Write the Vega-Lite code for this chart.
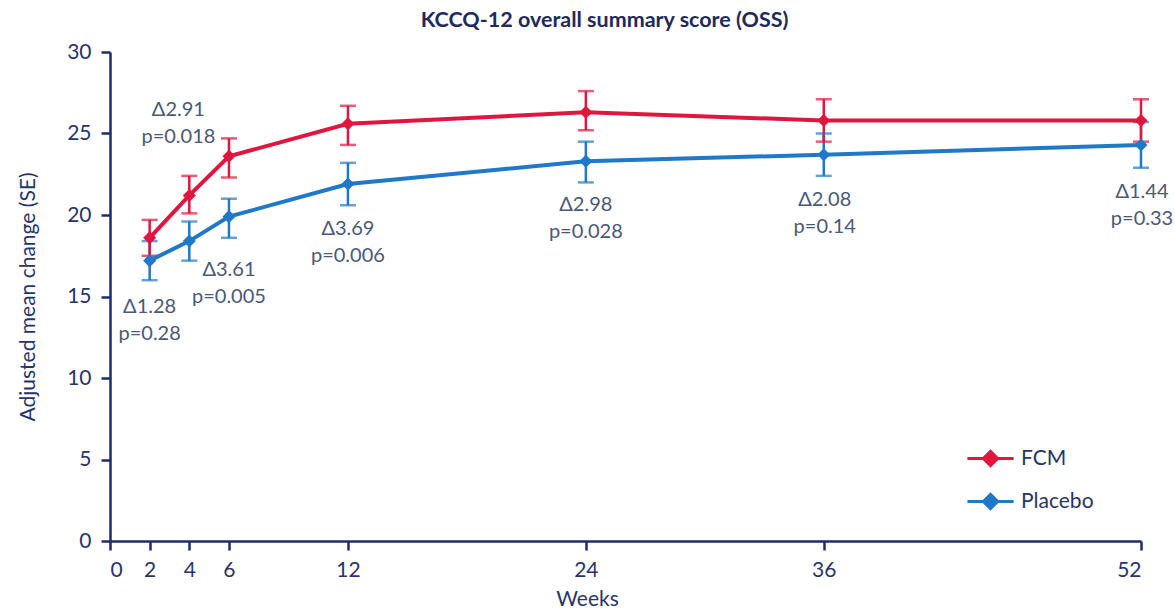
{
  "$schema": "https://vega.github.io/schema/vega-lite/v6.json",
  "width": 1031,
  "height": 489,
  "autosize": {"type": "none"},
  "padding": {"left": 110, "top": 52, "right": 34, "bottom": 70},
  "background": "white",
  "config": {
    "font": "Lato",
    "view": {"stroke": null},
    "axis": {
      "domainColor": "#1d2c6b", "domainWidth": 2.5, "tickColor": "#1d2c6b", "tickWidth": 2.5, "tickSize": 9,
      "labelColor": "#27346b", "labelFontSize": 21, "labelFont": "Lato", "titleColor": "#27346b", "titleFontSize": 21,
      "titleFontWeight": "normal", "titleFont": "Lato", "grid": false
    }
  },
  "title": {"text": "KCCQ-12 overall summary score (OSS)", "fontSize": 21.5, "fontWeight": "bold", "color": "#1f2a5c", "font": "Lato", "offset": 10, "dx": -21},
  "datasets": {
    "pts": [
      {"week": 2, "group": "Placebo", "mean": 17.2, "lo": 16.0, "hi": 18.4},
      {"week": 4, "group": "Placebo", "mean": 18.4, "lo": 17.2, "hi": 19.6},
      {"week": 6, "group": "Placebo", "mean": 19.9, "lo": 18.6, "hi": 21.0},
      {"week": 12, "group": "Placebo", "mean": 21.9, "lo": 20.6, "hi": 23.2},
      {"week": 24, "group": "Placebo", "mean": 23.3, "lo": 22.0, "hi": 24.5},
      {"week": 36, "group": "Placebo", "mean": 23.7, "lo": 22.4, "hi": 25.0},
      {"week": 52, "group": "Placebo", "mean": 24.3, "lo": 22.9, "hi": 25.7},
      {"week": 2, "group": "FCM", "mean": 18.6, "lo": 17.5, "hi": 19.7},
      {"week": 4, "group": "FCM", "mean": 21.2, "lo": 20.1, "hi": 22.4},
      {"week": 6, "group": "FCM", "mean": 23.6, "lo": 22.3, "hi": 24.7},
      {"week": 12, "group": "FCM", "mean": 25.6, "lo": 24.3, "hi": 26.7},
      {"week": 24, "group": "FCM", "mean": 26.3, "lo": 25.2, "hi": 27.6},
      {"week": 36, "group": "FCM", "mean": 25.8, "lo": 24.5, "hi": 27.1},
      {"week": 52, "group": "FCM", "mean": 25.8, "lo": 24.5, "hi": 27.1}
    ],
    "notes": [
      {"week": 2.0, "y": 14.36, "label": "Δ1.28\np=0.28"},
      {"week": 3.45, "y": 26.44, "label": "Δ2.91\np=0.018"},
      {"week": 6.0, "y": 16.63, "label": "Δ3.61\np=0.005"},
      {"week": 12.0, "y": 19.14, "label": "Δ3.69\np=0.006"},
      {"week": 24.0, "y": 20.61, "label": "Δ2.98\np=0.028"},
      {"week": 36.05, "y": 20.92, "label": "Δ2.08\np=0.14"},
      {"week": 52.05, "y": 21.41, "label": "Δ1.44\np=0.33"}
    ]
  },
  "layer": [
    {
      "data": {"name": "pts"},
      "mark": {"type": "rule", "strokeWidth": 2.5},
      "encoding": {
        "x": {"field": "week", "type": "quantitative", "scale": {"domain": [0, 52], "nice": false},
          "axis": {"values": [0, 2, 4, 6, 12, 24, 36, 52], "title": "Weeks", "labelPadding": 9, "titlePadding": 8, "titleX": 477, "titleAnchor": "start", "titleAlign": "center"}},
        "y": {"field": "lo", "type": "quantitative", "scale": {"domain": [0, 30], "nice": false},
          "axis": {"values": [0, 5, 10, 15, 20, 25, 30], "title": "Adjusted mean change (SE)", "labelPadding": 10, "titlePadding": 28}},
        "y2": {"field": "hi"},
        "color": {"field": "group", "type": "nominal", "scale": {"domain": ["FCM", "Placebo"], "range": ["#e0163f", "#1f78c8"]},
          "legend": {"orient": "none", "legendX": 868, "legendY": 394, "title": null, "labelFontSize": 21, "labelColor": "#27346b", "labelFont": "Lato",
            "symbolType": "M-2.1,0L2.1,0M0,-0.65L0.65,0L0,0.65L-0.65,0Z", "symbolSize": 484, "symbolStrokeWidth": 3, "symbolOpacity": 1, "rowPadding": 16, "labelOffset": 18,
            "encode": {"symbols": {"update": {"opacity": {"value": 1}, "fillOpacity": {"value": 1}, "strokeOpacity": {"value": 1}}}}}}
      }
    },
    {
      "data": {"name": "pts"},
      "mark": {"type": "tick", "orient": "horizontal", "thickness": 2.5, "size": 16},
      "encoding": {
        "x": {"field": "week", "type": "quantitative"},
        "y": {"field": "hi", "type": "quantitative"},
        "color": {"field": "group", "type": "nominal"}
      }
    },
    {
      "data": {"name": "pts"},
      "mark": {"type": "tick", "orient": "horizontal", "thickness": 2.5, "size": 16},
      "encoding": {
        "x": {"field": "week", "type": "quantitative"},
        "y": {"field": "lo", "type": "quantitative"},
        "color": {"field": "group", "type": "nominal"}
      }
    },
    {
      "data": {"name": "pts"},
      "mark": {"type": "line", "strokeWidth": 4},
      "encoding": {
        "x": {"field": "week", "type": "quantitative"},
        "y": {"field": "mean", "type": "quantitative"},
        "color": {"field": "group", "type": "nominal"}
      }
    },
    {
      "data": {"name": "pts"},
      "mark": {"type": "point", "shape": "diamond", "filled": true, "size": 170, "opacity": 1},
      "encoding": {
        "x": {"field": "week", "type": "quantitative"},
        "y": {"field": "mean", "type": "quantitative"},
        "color": {"field": "group", "type": "nominal"}
      }
    },
    {
      "data": {"name": "notes"},
      "mark": {"type": "text", "fontSize": 20, "color": "#4a5878", "lineBreak": "\n", "lineHeight": 27, "baseline": "middle", "align": "center", "font": "Lato"},
      "encoding": {
        "x": {"field": "week", "type": "quantitative"},
        "y": {"field": "y", "type": "quantitative"},
        "text": {"field": "label"}
      }
    }
  ]
}
